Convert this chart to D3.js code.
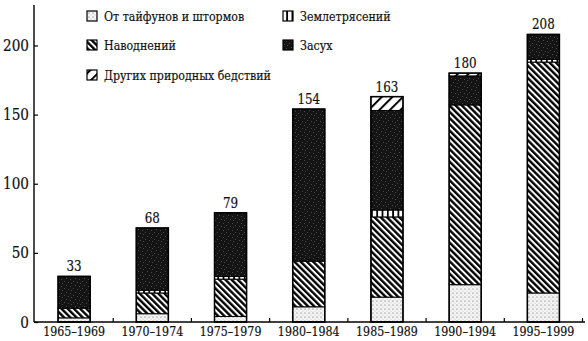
<!DOCTYPE html>
<html><head><meta charset="utf-8">
<script src="https://cdn.jsdelivr.net/npm/d3@7"></script>
<style>
html,body{margin:0;padding:0;background:#fff;}
svg{display:block;}
</style></head>
<body><svg id="c" width="588" height="341"></svg>
<script>
const categories = ["1965–1969","1970–1974","1975–1979","1980–1984","1985–1989","1990–1994","1995–1999"];
const typhoons    = [3, 6, 4, 11, 18, 27, 21];
const floods      = [7, 15, 27, 33, 58, 130, 167];
const earthquakes = [0, 2, 2, 0, 5, 0, 2];
const droughts    = [23, 45, 46, 110, 72, 21, 18];
const others      = [0, 0, 0, 0, 10, 2, 0];
const totals      = [33, 68, 79, 154, 163, 180, 208];
const yTicks      = [0, 50, 100, 150, 200];
const seriesNames = ["От тайфунов и штормов","Наводнений","Землетрясений","Засух","Других природных бедствий"];
const seriesKeys  = ["typhoons","floods","earthquakes","droughts","others"];

const FONT = "DejaVu Serif";
const svg = d3.select("#c");
const defs = svg.append("defs");

// condense the wide serif to a Times-like width
function condense(sel, k){
  sel.each(function(){
    const w = this.getComputedTextLength();
    d3.select(this).attr("textLength", w*k).attr("lengthAdjust","spacingAndGlyphs");
  });
}

const pDots = defs.append("pattern").attr("id","p-typhoons").attr("patternUnits","userSpaceOnUse").attr("width",4).attr("height",4);
pDots.append("rect").attr("width",4).attr("height",4).attr("fill","#f4f4f4");
pDots.append("circle").attr("cx",1).attr("cy",1).attr("r",0.6).attr("fill","#555");
pDots.append("circle").attr("cx",3).attr("cy",3).attr("r",0.45).attr("fill","#999");

const pFl = defs.append("pattern").attr("id","p-floods").attr("patternUnits","userSpaceOnUse").attr("width",4.4).attr("height",10).attr("patternTransform","rotate(-45)");
pFl.append("rect").attr("width",4.4).attr("height",10).attr("fill","#fff");
pFl.append("rect").attr("width",2.4).attr("height",10).attr("fill","#000");

const pEq = defs.append("pattern").attr("id","p-earthquakes").attr("patternUnits","userSpaceOnUse").attr("width",5.3).attr("height",10);
pEq.append("rect").attr("width",5.3).attr("height",10).attr("fill","#fff");
pEq.append("rect").attr("width",1.8).attr("height",10).attr("fill","#000");

const pDr = defs.append("pattern").attr("id","p-droughts").attr("patternUnits","userSpaceOnUse").attr("width",9).attr("height",7);
pDr.append("rect").attr("width",9).attr("height",7).attr("fill","#141414");
[[1,1],[5,2],[3,5],[7,6],[8,3]].forEach(([a,b])=>pDr.append("rect").attr("x",a).attr("y",b).attr("width",1).attr("height",1).attr("fill","#4a4a4a"));

const pOt = defs.append("pattern").attr("id","p-others").attr("patternUnits","userSpaceOnUse").attr("width",7.5).attr("height",10).attr("patternTransform","rotate(45)");
pOt.append("rect").attr("width",7.5).attr("height",10).attr("fill","#fff");
pOt.append("rect").attr("width",2).attr("height",10).attr("fill","#000");

const x = d3.scaleBand().domain(categories).range([35, 582.5]).padding(0);
const y = d3.scaleLinear().domain([0, 230]).range([322, 4]);
const barW = x.bandwidth() * 0.41;

const rows = categories.map((c,i)=>({cat:c, typhoons:typhoons[i], floods:floods[i], earthquakes:earthquakes[i], droughts:droughts[i], others:others[i], total:totals[i]}));
const stack = d3.stack().keys(seriesKeys)(rows);

const g = svg.append("g");
stack.forEach(layer=>{
  g.selectAll(null).data(layer.filter(d=>d[1]-d[0]>0)).enter().append("rect")
    .attr("x", d=>x(d.data.cat) + (x.bandwidth()-barW)/2)
    .attr("y", d=>y(d[1]))
    .attr("width", barW)
    .attr("height", d=>y(d[0])-y(d[1]))
    .attr("fill", "url(#p-"+layer.key+")")
    .attr("stroke","#000").attr("stroke-width",1);
});
g.selectAll(null).data(rows).enter().append("rect")
  .attr("x", d=>x(d.cat) + (x.bandwidth()-barW)/2)
  .attr("y", d=>y(d.total))
  .attr("width", barW)
  .attr("height", d=>y(0)-y(d.total))
  .attr("fill","none").attr("stroke","#000").attr("stroke-width",1.5);

const vl = g.selectAll(null).data(rows).enter().append("text")
  .attr("x", d=>x(d.cat)+x.bandwidth()/2)
  .attr("y", d=>y(d.total)-5)
  .attr("text-anchor","middle")
  .attr("font-family",FONT).attr("font-size",14).attr("fill","#111")
  .attr("stroke","#111").attr("stroke-width",0.2)
  .text(d=>d.total);
condense(vl, 0.85);

const ya = svg.append("g").attr("transform","translate(34,0)")
  .call(d3.axisRight(y).tickValues(yTicks).tickSize(4).tickFormat(d3.format("d")));
ya.attr("font-family",null).attr("font-size",null);
ya.select(".domain").remove();
ya.selectAll(".tick line").attr("stroke","#000").attr("stroke-width",1.2);
const yt = ya.selectAll(".tick text").attr("x",-5).attr("text-anchor","end")
  .attr("font-family",FONT).attr("font-size",16).attr("fill","#111")
  .attr("stroke","#111").attr("stroke-width",0.2);
condense(yt, 0.85);
svg.append("line").attr("x1",34).attr("x2",34).attr("y1",y(230)+1).attr("y2",y(0)).attr("stroke","#000").attr("stroke-width",1.4);

svg.append("line").attr("x1",34).attr("x2",585).attr("y1",y(0)).attr("y2",y(0)).attr("stroke","#000").attr("stroke-width",1.4);
svg.selectAll(null).data(categories).enter().append("line")
  .attr("x1", d=>x(d)+x.bandwidth()).attr("x2", d=>x(d)+x.bandwidth())
  .attr("y1", y(0)).attr("y2", y(0)-4).attr("stroke","#000").attr("stroke-width",1.2);
const ct = svg.selectAll(null).data(categories).enter().append("text")
  .attr("x", d=>x(d)+x.bandwidth()/2).attr("y", 336)
  .attr("text-anchor","middle")
  .attr("font-family",FONT).attr("font-size",13).attr("fill","#111")
  .attr("stroke","#111").attr("stroke-width",0.2)
  .text(d=>d);
condense(ct, 0.85);

const legendPos = [
  {k:"typhoons", x:87, y:16},
  {k:"floods", x:87, y:45},
  {k:"others", x:87, y:75},
  {k:"earthquakes", x:283, y:16},
  {k:"droughts", x:283, y:45}
];
const lg = svg.append("g");
legendPos.forEach(p=>{
  const i = seriesKeys.indexOf(p.k);
  lg.append("rect").attr("x",p.x).attr("y",p.y-5).attr("width",10).attr("height",10)
    .attr("fill","url(#p-"+p.k+")").attr("stroke","#000").attr("stroke-width",1.2);
  lg.append("text").attr("x",p.x+17).attr("y",p.y+4.5)
    .attr("font-family",FONT).attr("font-size",13).attr("fill","#111")
    .attr("stroke","#111").attr("stroke-width",0.2)
    .text(seriesNames[i]);
});
condense(lg.selectAll("text"), 0.85);
</script></body></html>
